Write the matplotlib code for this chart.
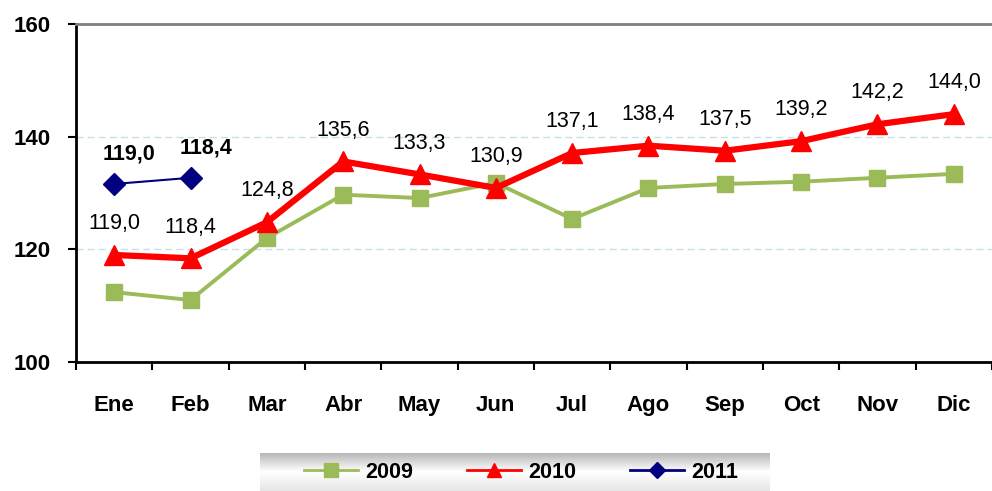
import numpy as np
import matplotlib.pyplot as plt
from matplotlib.lines import Line2D

plt.rcParams['font.family'] = ['Liberation Sans', 'DejaVu Sans']

months = ['Ene', 'Feb', 'Mar', 'Abr', 'May', 'Jun', 'Jul', 'Ago', 'Sep', 'Oct', 'Nov', 'Dic']
v2009 = [112.4, 111.0, 122.0, 129.7, 129.1, 131.8, 125.4, 130.9, 131.6, 132.0, 132.7, 133.4]
v2010 = [119.0, 118.4, 124.8, 135.6, 133.3, 130.9, 137.1, 138.4, 137.5, 139.2, 142.2, 144.0]
v2011 = [131.6, 132.7]
labels2010 = ['119,0', '118,4', '124,8', '135,6', '133,3', '130,9', '137,1', '138,4',
              '137,5', '139,2', '142,2', '144,0']
labels2011 = ['119,0', '118,4']

green = '#9bbb59'
red = '#ff0000'
navy = '#000080'

fig = plt.figure(figsize=(9.92, 4.91), dpi=100)
ax = fig.add_axes([76 / 992, (491 - 362) / 491, 1 - 76 / 992, (362 - 24) / 491])

x = np.arange(len(months))
ax.plot(x, v2009, color=green, lw=2.8, marker='s', ms=11, label='2009', zorder=3)
ax.plot(x, v2010, color=red, lw=4.5, marker='^', ms=14, label='2010', zorder=4)
ax.plot(x[:len(v2011)], v2011, color=navy, lw=1.5, marker='D', ms=11, label='2011', zorder=5)

for xi, yi, t in zip(x, v2010, labels2010):
    ax.annotate(t, (xi, yi), xytext=(0, 15), textcoords='offset points',
                ha='center', va='bottom', fontsize=15.5)
for xi, yi, t in zip(x, v2011, labels2011):
    ax.annotate(t, (xi, yi), xytext=(11, 14), textcoords='offset points',
                ha='center', va='bottom', fontsize=15.5, fontweight='bold')

ax.set_xlim(-0.5, len(months) - 0.5)
ax.set_ylim(100, 160)
ax.set_yticks([100, 120, 140, 160])
ax.set_xticks(x)
ax.set_xticklabels(months)
ax.set_xticks(np.arange(-0.5, len(months)), minor=True)
ax.tick_params(axis='x', which='major', length=0, pad=24, labelsize=16)
ax.tick_params(axis='x', which='minor', length=6, width=1.5, direction='out')
ax.tick_params(axis='y', length=6, width=1.5, direction='out', labelsize=16, pad=12)
for lab in ax.get_xticklabels() + ax.get_yticklabels():
    lab.set_fontweight('bold')

for yv in [120, 140]:
    ax.axhline(yv, color='#c5e0e8', lw=1, ls=(0, (5, 3)), zorder=1)

ax.spines['left'].set_linewidth(2)
ax.spines['bottom'].set_linewidth(2)
ax.spines['right'].set_visible(False)
ax.spines['top'].set_color('#808080')
ax.spines['top'].set_linewidth(2)

# legend background with a grey gradient
bg = fig.add_axes([260 / 992, 0, (770 - 260) / 992, (491 - 453) / 491])
grad = np.concatenate([np.linspace(0.72, 1.0, 20), np.linspace(1.0, 0.9, 20)])
bg.imshow(grad[:, None], cmap='gray', vmin=0, vmax=1, aspect='auto',
          extent=[0, 1, 0, 1])
bg.axis('off')

handles = [Line2D([], [], color=green, lw=2, marker='s', ms=10),
           Line2D([], [], color=red, lw=2, marker='^', ms=10),
           Line2D([], [], color=navy, lw=2, marker='D', ms=8)]
leg = fig.legend(handles, ['2009', '2010', '2011'], loc='center',
                 bbox_to_anchor=(521 / 992, (491 - 472) / 491), ncol=3,
                 frameon=False, handlelength=2.5, handletextpad=0.35,
                 columnspacing=2.5, prop={'weight': 'bold', 'size': 15.5})

fig.savefig('out.png', dpi=100)
